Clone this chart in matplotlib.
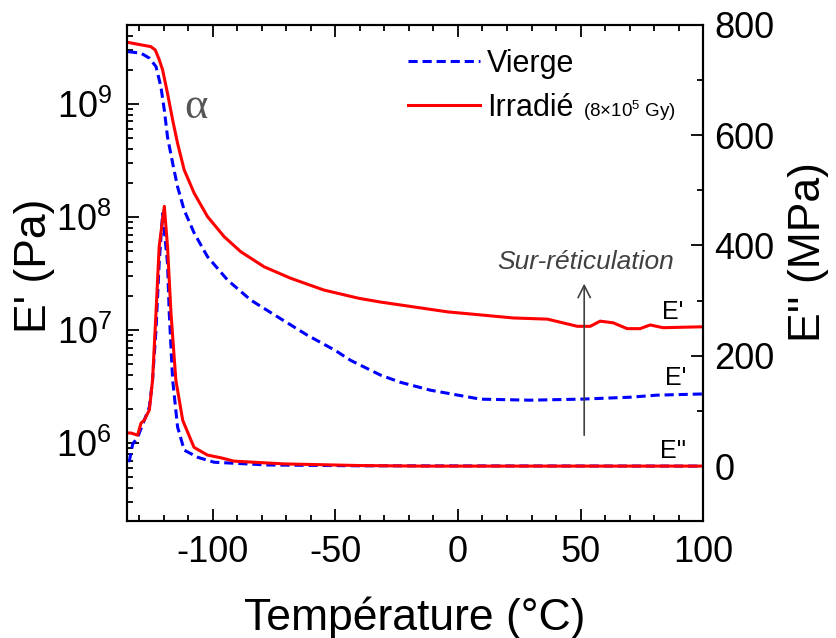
import numpy as np
import matplotlib
matplotlib.use("Agg")
import matplotlib.pyplot as plt
from matplotlib.ticker import MultipleLocator, LogLocator

plt.rcParams['font.family'] = ['Liberation Sans', 'DejaVu Sans']
plt.rcParams['mathtext.default'] = 'regular'
plt.rcParams['axes.unicode_minus'] = False

# E' (Pa) - vierge
t_ep_v = [-134.6, -129.3, -125.9, -123.2, -121.2, -119.8, -118.5, -116.4, -114.4, -111.7,
          -107.6, -102.2, -94.0, -84.5, -73.6, -61.4, -50.0, -43.8, -31.6, -23.4,
          -11.2, 9.2, 29.5, 49.9, 70.3, 81.3, 98.8, 100]
ep_v = [2.9e9, 2.81e9, 2.54e9, 2.14e9, 1.42e9, 8.8e8, 5.1e8, 2.99e8, 1.85e8, 1.15e8,
        7.2e7, 4.46e7, 2.77e7, 1.84e7, 1.31e7, 9.0e6, 6.6e6, 5.4e6, 4.0e6, 3.45e6,
        2.94e6, 2.45e6, 2.4e6, 2.45e6, 2.55e6, 2.66e6, 2.72e6, 2.72e6]

# E' (Pa) - irradie
t_ep_i = [-134.6, -129.3, -125.3, -123.5, -122.0, -120.5, -118.5, -116.4, -114.4, -111.7,
          -107.6, -102.2, -95.4, -88.6, -79.1, -68.2, -54.7, -40.4, -31.6, -4.3,
          22.6, 36.5, 48.7, 54, 58, 63.3, 69, 74.3, 78.4, 83.7, 100]
ep_i = [3.5e9, 3.33e9, 3.21e9, 3.0e9, 2.5e9, 2.0e9, 1.24e9, 7.2e8, 4.49e8, 2.61e8,
        1.62e8, 1.01e8, 6.7e7, 4.93e7, 3.63e7, 2.87e7, 2.26e7, 1.91e7, 1.77e7, 1.45e7,
        1.28e7, 1.25e7, 1.08e7, 1.08e7, 1.2e7, 1.16e7, 1.03e7, 1.03e7, 1.11e7, 1.05e7, 1.07e7]

# E'' (MPa) - vierge
t_epp_v = [-134.6, -134.0, -132.7, -130.7, -128.0, -125.9, -124.6, -123.2, -121.9, -120.5,
           -118.5, -117.8, -116.4, -114.4, -111.7, -106.2, -99.5, -77.6, -40, 100]
epp_v = [8, 11, 40, 52, 83, 107, 156, 247, 368, 458,
         368, 278, 156, 71, 29, 16, 7, 2, 0.5, 0]

# E'' (MPa) - irradie
t_epp_i = [-134.6, -133.4, -130.7, -129.3, -128.0, -125.9, -124.6, -123.2, -121.9, -119.8,
           -118.5, -117.1, -115.1, -112.3, -107.7, -102.2, -96.7, -91.4, -71, -40, -15, 100]
epp_i = [60, 60, 56, 78, 83, 102, 156, 278, 398, 471,
         398, 278, 156, 83, 34, 20, 15, 9, 4, 1, 0, 0]

fig = plt.figure(figsize=(8.36, 6.38), dpi=100)
ax = fig.add_axes([0.152, 0.183, 0.689, 0.778])
ax2 = ax.twinx()

blue = '#0000FF'
red = '#FF0000'
lw = 2.2

ax.plot(t_ep_v, ep_v, color=blue, lw=lw, dashes=(3, 1.6), label='Vierge')
ax.plot(t_ep_i, ep_i, color=red, lw=lw, label='Irradié')
ax2.plot(t_epp_v, epp_v, color=blue, lw=lw, dashes=(3, 1.6))
ax2.plot(t_epp_i, epp_i, color=red, lw=lw)

ax.set_yscale('log')
ax.set_xlim(-135, 100)
ax.set_ylim(2.04e5, 5e9)
ax2.set_ylim(-100, 800)

ax.xaxis.set_major_locator(MultipleLocator(50))
ax.xaxis.set_minor_locator(MultipleLocator(10))
ax.yaxis.set_major_locator(LogLocator(base=10, numticks=10))
ax.yaxis.set_minor_locator(LogLocator(base=10, subs=np.arange(2, 10), numticks=20))
ax2.yaxis.set_major_locator(MultipleLocator(200))
ax2.yaxis.set_minor_locator(MultipleLocator(100))

ax.tick_params(axis='x', which='both', direction='in', top=True, bottom=True, width=1.3)
ax.tick_params(axis='y', which='both', direction='in', right=False, width=1.3)
ax.tick_params(which='major', length=8.5, labelsize=26)
ax.tick_params(axis='x', which='major', pad=10)
ax.tick_params(axis='y', which='major', pad=11)
ax.tick_params(which='minor', length=4.5)
ax2.tick_params(axis='y', which='both', direction='in', width=1.3)
ax2.tick_params(which='major', length=8.5, labelsize=26, pad=8)
ax2.tick_params(which='minor', length=4.5)

for a in (ax, ax2):
    for s in a.spines.values():
        s.set_linewidth(1.5)

ax.set_xlabel('Température (°C)', fontsize=32)
ax.set_ylabel("E' (Pa)", fontsize=32)
ax2.set_ylabel("E'' (MPa)", fontsize=32)
ax.xaxis.set_label_coords(0.5, -0.151)
ax.yaxis.set_label_coords(-0.125, 0.514)
ax2.yaxis.set_label_coords(1.148, 0.542)

ax.legend(loc='center left', bbox_to_anchor=(0.488, 0.877), frameon=False, fontsize=22,
          handlelength=2.35, handletextpad=0.23, labelspacing=0.45, borderpad=0,
          borderaxespad=0)
ax.text(0.792, 0.826, '(8×10$^5$ Gy)', transform=ax.transAxes, fontsize=13.5,
        ha='left', va='center')

ax.text(-106.9, 9.4e8, 'α', fontsize=32, color='#555555', ha='center', va='center',
        family=['Liberation Serif', 'DejaVu Serif'])

ax.text(87.8, 1.45e7, "E'", fontsize=18, ha='center', va='center')
ax.text(89.0, 3.8e6, "E'", fontsize=18, ha='center', va='center')
ax2.text(87.8, 27, "E''", fontsize=18, ha='center', va='center')

ax2.annotate('', xy=(51.5, 336), xytext=(51.5, 51),
             arrowprops=dict(arrowstyle='->', color='#404040', lw=1.2,
                             mutation_scale=22))
ax2.text(51.9, 370, 'Sur-réticulation', fontsize=19, style='italic', color='#404040',
         ha='center', va='center')

fig.savefig('out.png', dpi=100)
